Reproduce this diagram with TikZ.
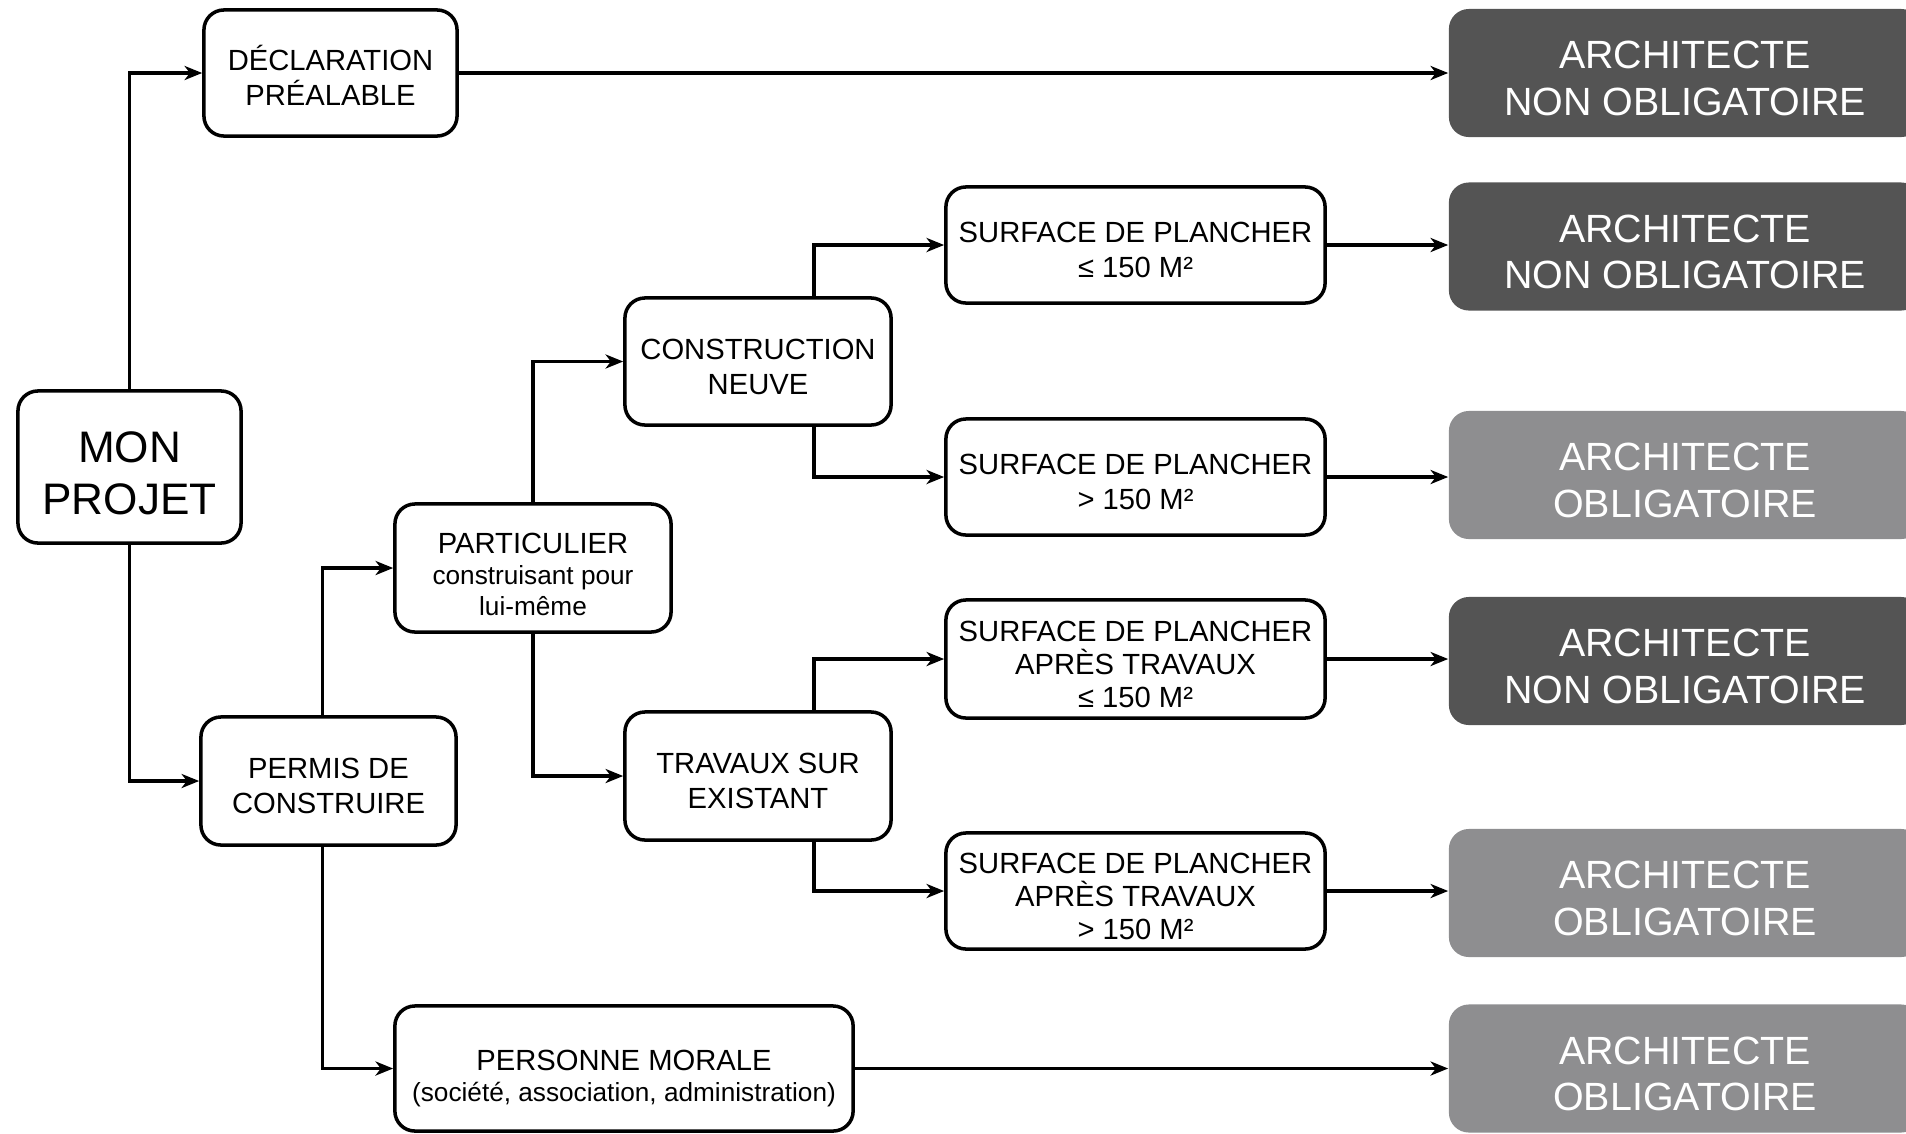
\documentclass[tikz,border=0pt]{standalone}
\usepackage{fontspec}
\setmainfont{Liberation Sans}
\usetikzlibrary{arrows.meta}
\definecolor{darkgrey}{HTML}{545454}
\definecolor{lightgrey}{HTML}{8E8E90}
\newcommand{\subtxt}{\fontsize{7.45}{8.5}\selectfont}

\begin{document}
\begin{tikzpicture}[x=0.01cm,y=-0.01cm,
  toppad/.style={execute at begin node={\rule{0pt}{#1}}},
  box/.style={draw,line width=1pt,rounded corners=0.2cm,align=center,inner sep=0pt,
    toppad=18.64pt,font=\fontsize{8.3}{9.9}\selectfont},
  result/.style={rounded corners=0.2cm,align=center,inner sep=0pt,minimum width=4.72cm,
    minimum height=1.28cm,text=white,toppad=24pt,font=\fontsize{11.2}{13.2}\selectfont},
  darkres/.style={result,fill=darkgrey},
  lightres/.style={result,fill=lightgrey},
  arr/.style={line width=1pt,-{Stealth[length=5pt,width=4pt,inset=1.5pt]}}]
% Fix the frame of the picture
\path[use as bounding box] (0,0) rectangle (1906,1133);
\clip (0,0) rectangle (1906,1133);

%Draw left part
\node[box,minimum width=2.23cm,minimum height=1.52cm,toppad=27pt,font=\fontsize{12.55}{14.8}\selectfont] (projet) at (129.5,467) {MON\\PROJET};
\node[box,minimum width=2.53cm,minimum height=1.26cm] (decl) at (330.5,73) {DÉCLARATION\\PRÉALABLE};
\node[box,minimum width=2.55cm,minimum height=1.28cm] (permis) at (328.5,781) {PERMIS DE\\CONSTRUIRE};
\node[box,minimum width=2.76cm,minimum height=1.28cm,toppad=27.3pt,font=\fontsize{8.3}{8.8}\selectfont] (partic) at (533,568) {PARTICULIER\\{\subtxt construisant pour}\\{\subtxt lui-même}};
\node[box,minimum width=4.58cm,minimum height=1.25cm,toppad=20.5pt,font=\fontsize{8.3}{8.8}\selectfont] (morale) at (624,1068.5) {PERSONNE MORALE\\{\subtxt (société, association, administration)}};

%Draw middle part
\node[box,minimum width=2.66cm,minimum height=1.27cm,toppad=18.2pt] (neuve) at (758,361.5) {CONSTRUCTION\\NEUVE};
\node[box,minimum width=2.66cm,minimum height=1.28cm] (existant) at (758,776) {TRAVAUX SUR\\EXISTANT};
\node[box,minimum width=3.79cm,minimum height=1.16cm,toppad=18.2pt] (surf1) at (1135.5,245) {SURFACE DE PLANCHER\\≤ 150 M²};
\node[box,minimum width=3.79cm,minimum height=1.16cm,toppad=18.2pt] (surf2) at (1135.5,477) {SURFACE DE PLANCHER\\> 150 M²};
\node[box,minimum width=3.79cm,minimum height=1.18cm,toppad=27.9pt,font=\fontsize{8.3}{9.5}\selectfont] (surf3) at (1135.5,659) {SURFACE DE PLANCHER\\APRÈS TRAVAUX\\≤ 150 M²};
\node[box,minimum width=3.79cm,minimum height=1.16cm,toppad=27.9pt,font=\fontsize{8.3}{9.5}\selectfont] (surf4) at (1135.5,891) {SURFACE DE PLANCHER\\APRÈS TRAVAUX\\> 150 M²};

%Draw results
\node[darkres] (res1) at (1685,73) {ARCHITECTE\\NON OBLIGATOIRE};
\node[darkres] (res2) at (1685,246.5) {ARCHITECTE\\NON OBLIGATOIRE};
\node[lightres] (res3) at (1685,475) {ARCHITECTE\\OBLIGATOIRE};
\node[darkres] (res4) at (1685,661) {ARCHITECTE\\NON OBLIGATOIRE};
\node[lightres] (res5) at (1685,893) {ARCHITECTE\\OBLIGATOIRE};
\node[lightres] (res6) at (1685,1068.5) {ARCHITECTE\\OBLIGATOIRE};

%Draw connectors
\draw[arr] (projet.north) |- (decl.west);
\draw[arr] (projet.south) |- (permis.west);
\draw[arr] (permis.north) ++(-6,0) |- (partic.west);
\draw[arr] (permis.south) ++(-6,0) |- (morale.west);
\draw[arr] (partic.north) |- (neuve.west);
\draw[arr] (partic.south) |- (existant.west);
\draw[arr] (neuve.north) ++(56,0) |- (surf1.west);
\draw[arr] (neuve.south) ++(56,0) |- (surf2.west);
\draw[arr] (existant.north) ++(56,0) |- (surf3.west);
\draw[arr] (existant.south) ++(56,0) |- (surf4.west);
\draw[arr] (decl.east) -- (decl.east -| res1.west);
\draw[arr] (surf1.east) -- (surf1.east -| res2.west);
\draw[arr] (surf2.east) -- (surf2.east -| res3.west);
\draw[arr] (surf3.east) -- (surf3.east -| res4.west);
\draw[arr] (surf4.east) -- (surf4.east -| res5.west);
\draw[arr] (morale.east) -- (morale.east -| res6.west);
\end{tikzpicture}
\end{document}
